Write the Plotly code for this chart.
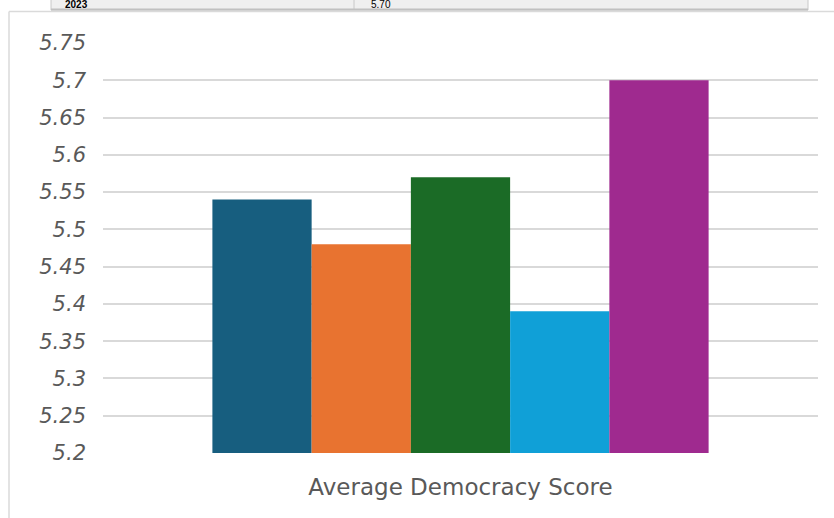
import plotly.graph_objects as go

# Average democracy score by year (single category, one bar per year)
category = ["Average Democracy Score"]
years = ["2019", "2020", "2021", "2022", "2023"]
scores = [5.54, 5.48, 5.57, 5.39, 5.70]
colors = ["#175E7F", "#E87330", "#1B6B26", "#10A0D7", "#9F2A8F"]

y_ticks = [5.2, 5.25, 5.3, 5.35, 5.4, 5.45, 5.5, 5.55, 5.6, 5.65, 5.7, 5.75]
y_tick_text = ["5.2", "5.25", "5.3", "5.35", "5.4", "5.45", "5.5", "5.55",
               "5.6", "5.65", "5.7", "5.75"]

# Last table row shown above the chart
table_row = ["2023", "5.70"]

W, H = 834, 518
ML, MR, MT, MB = 103, 16, 43, 65
PW, PH = W - ML - MR, H - MT - MB


def px_x(x):
    return (x - ML) / PW


def px_y(y):
    return (H - MB - y) / PH


fig = go.Figure()
for yr, val, col in zip(years, scores, colors):
    fig.add_trace(go.Bar(
        x=category, y=[val], name=yr,
        marker=dict(color=col, line=dict(width=0)),
        showlegend=False,
    ))

shapes = []
# table strip at the top
shapes.append(dict(type="rect", xref="paper", yref="paper",
                   x0=px_x(51), x1=px_x(808), y0=px_y(10), y1=px_y(-5),
                   fillcolor="#EFEFEF", line=dict(color="#C8C8C8", width=1),
                   layer="below"))
shapes.append(dict(type="line", xref="paper", yref="paper",
                   x0=px_x(354), x1=px_x(354), y0=px_y(10), y1=px_y(-5),
                   line=dict(color="#C8C8C8", width=1)))
shapes.append(dict(type="line", xref="paper", yref="paper",
                   x0=px_x(51), x1=px_x(808), y0=px_y(9.5), y1=px_y(9.5),
                   line=dict(color="#C0C0C0", width=2)))
# chart panel border
shapes.append(dict(type="line", xref="paper", yref="paper",
                   x0=px_x(9), x1=px_x(840), y0=px_y(11.5), y1=px_y(11.5),
                   line=dict(color="#DADADA", width=1.5)))
shapes.append(dict(type="line", xref="paper", yref="paper",
                   x0=px_x(9), x1=px_x(9), y0=px_y(11.5), y1=px_y(530),
                   line=dict(color="#DADADA", width=1.5)))

annotations = [
    dict(text="<b>%s</b>" % table_row[0], xref="paper", yref="paper",
         x=px_x(64), y=px_y(4.5), xanchor="left", yanchor="middle",
         showarrow=False, borderpad=0,
         font=dict(family="Liberation Sans", size=10, color="#000000")),
    dict(text=table_row[1], xref="paper", yref="paper",
         x=px_x(370), y=px_y(4.5), xanchor="left", yanchor="middle",
         showarrow=False, borderpad=0,
         font=dict(family="Liberation Sans", size=10, color="#000000")),
]

fig.update_layout(
    width=W, height=H,
    margin=dict(l=ML, r=MR, t=MT, b=MB),
    paper_bgcolor="#FFFFFF", plot_bgcolor="#FFFFFF",
    barmode="group", bargap=0.306, bargroupgap=0,
    shapes=shapes, annotations=annotations,
    xaxis=dict(showgrid=False, showline=False, ticks="",
               tickfont=dict(family="DejaVu Sans", size=23, color="#595959"),
               ticklabelstandoff=18),
    yaxis=dict(range=[5.2, 5.75], tickvals=y_ticks, ticktext=y_tick_text,
               showgrid=True, gridcolor="#D9D9D9", gridwidth=1.5,
               zeroline=False, showline=False, ticks="",
               ticklabelstandoff=16,
               tickfont=dict(family="DejaVu Sans", size=21, color="#595959",
                             style="italic")),
)

fig.write_html("out.html")
